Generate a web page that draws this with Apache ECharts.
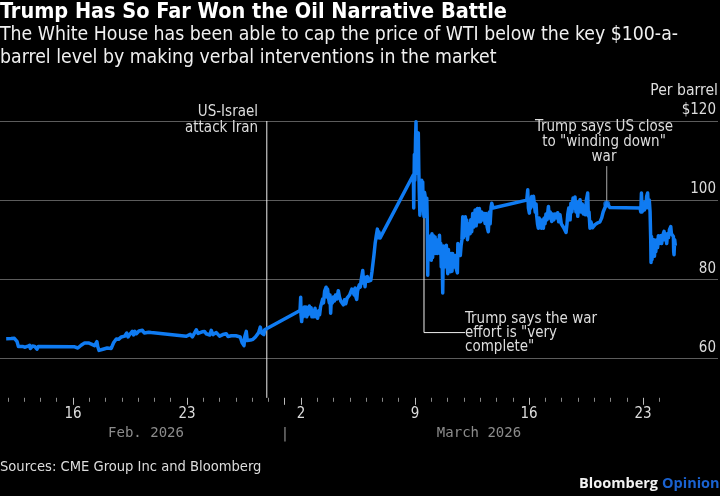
<!DOCTYPE html>
<html>
<head>
<meta charset="utf-8">
<style>html,body{margin:0;padding:0;background:#000}#chart{width:720px;height:496px}</style>
<script src="https://cdn.jsdelivr.net/npm/echarts@6/dist/echarts.min.js"></script>
</head>
<body>
<div id="chart"></div>
<script>
// x values are day numbers: Feb 16 = 15, Mar 1 = 28, Mar 2 = 29, Mar 23 = 50
var febPrices = [[10.9,64.97],[11.2,65],[11.4,65.05],[11.56,64.3],[11.65,63],[11.72,62.6],[11.9,63],[12.03,62.8],[12.2,63],[12.34,63.3],[12.38,62.5],[12.44,62.3],[12.52,63.1],[12.65,63],[12.72,62.5],[12.79,62.3],[12.87,63],[12.95,62.7],
    [14.9,62.9],[15.1,62.9],[15.3,62.6],[15.5,63.3],[15.72,63.9],[15.95,63.9],[16.13,63.6],[16.33,63.2],[16.47,64.2],[16.52,63],[16.6,62],[16.72,62.5],[16.84,62.3],[17.1,62.6],[17.35,62.5],[17.5,64],[17.66,64.9],[17.8,64.8],[17.97,65.4],[18.07,65],[18.17,65.6],[18.24,65.1],[18.3,66.4],[18.38,65.4],[18.48,66],[18.56,65.6],[18.64,66.8],[18.72,65.9],[18.8,66.8],[18.89,66.2],[19.05,66.9],[19.26,67.07],[19.38,66.4],[19.5,66.06],[19.65,66.6],[19.8,66.5],
    [21.96,65.56],[22.08,65.2],[22.2,66.06],[22.33,65.4],[22.45,66.3],[22.57,67.2],[22.68,66.3],[22.78,66.1],[22.93,66.7],[23.08,66.8],[23.18,66.2],[23.29,66.5],[23.4,65.9],[23.49,67.07],[23.6,66],[23.7,65.6],[23.8,66.5],[23.9,66.2],[24,65.6],[24.2,66],[24.3,65.5],[24.41,66.2],[24.52,65.5],[24.62,65.05],[24.72,65.7],[24.82,65.5],[25,65.7],[25.27,65.4],[25.38,64],[25.44,63.7],[25.5,63.2],[25.55,65.5],[25.64,66.8],[25.7,64.5],[25.75,64.7],[25.9,64.6],[26.05,64.8],[26.2,65.4],[26.3,65.4],[26.4,66.5],[26.5,67.9],[26.58,66.4],[26.67,66.6],[26.72,66],[26.77,67.2]];
var risePrices = [[28.94,72.07],[28.98,75.44],[29,71],[29.04,69.3],[29.09,72],[29.14,70.5],[29.2,73],[29.25,71],[29.3,73],[29.35,70.5],[29.39,72.8],[29.44,71],[29.51,73.25],[29.56,71.5],[29.62,72.8],[29.67,70.5],[29.72,71.5],[29.78,70.5],[29.86,72.66],[29.92,70.5],[29.97,71.5],[30.02,70.1],[30.08,72],[30.14,71],[30.2,73],[30.27,72.9],[30.33,75],[30.38,74],[30.45,77],[30.54,77.97],[30.58,75.5],[30.63,77.5],[30.7,75],[30.74,74],[30.78,76],[30.82,71.4],[30.86,75],[30.92,74],[30.99,75.5],[31.05,74.5],[31.12,76],[31.2,75],[31.29,77.1],[31.36,75.5],[31.44,74.5],[31.52,75],[31.6,73.5],[31.67,74.8],[31.75,73.8],[31.83,75.2],[31.91,74.9],[31.98,76],[32.05,76.5],[32.12,77.5],[32.21,78],[32.27,76],[32.32,77.8],[32.37,75.5],[32.42,74.9],[32.47,77],[32.52,76.5],[32.58,78.6],[32.64,78],[32.7,80],[32.79,82.2],[32.84,79],[32.88,80.5],[32.93,78.1],[32.98,80.5],[33.03,79.5],[33.07,80.7],[33.15,79.5],[33.28,79.7],[33.36,82],[33.48,86.2],[33.55,89],[33.62,91],[33.69,92.66],[33.73,90.5],[33.78,92],[33.85,90.4]];
var peakPrices = [[35.9,106.4],[35.92,98],[35.94,105],[35.96,111.5],[35.99,105],[36.03,115],[36.06,119.8],[36.09,108],[36.12,116],[36.14,106.8],[36.17,116],[36.2,117],[36.23,108],[36.26,102],[36.3,96.2],[36.33,105],[36.37,100],[36.41,105],[36.44,99],[36.47,104.6],[36.5,98],[36.55,95.8],[36.58,102],[36.61,101.3],[36.65,99],[36.72,100.5],[36.75,95]];
var dipPrices = [[36.78,81],[36.8,90.7],[36.84,86],[36.88,90],[36.92,85],[36.96,91],[37,84.8],[37.04,91.5],[37.08,85.5],[37.13,91],[37.18,86.5],[37.23,90.7],[37.28,86.5],[37.33,89.5],[37.37,86.5],[37.41,90],[37.46,87],[37.5,91.1],[37.54,86.5],[37.58,89],[37.61,83.1],[37.64,88],[37.67,84],[37.7,76.5],[37.74,88.4],[37.78,83],[37.83,88.2],[37.88,83.5],[37.92,88.6],[37.97,84],[38.01,81.4],[38.05,87.5],[38.09,82.5],[38.13,85.5],[38.18,81.9],[38.23,86.5],[38.27,82],[38.31,86.5],[38.36,83.5],[38.4,86],[38.46,83.1],[38.5,86],[38.54,82.5],[38.6,81.6],[38.63,89],[38.66,86],[38.72,88.5],[38.78,86],[38.83,88.6],[38.88,90],[38.93,95.8],[38.97,90.5],[39.01,95.5],[39.05,91.1],[39.09,95.8],[39.13,91],[39.17,95],[39.22,90],[39.28,89.7],[39.33,94],[39.38,91.5],[39.42,95],[39.48,92],[39.54,96.6],[39.6,93.2],[39.69,97.5],[39.75,93.5],[39.83,97.9],[39.89,94.5],[39.95,97.9],[40.02,94.5],[40.09,97],[40.15,95],[40.24,96.6],[40.3,94.1],[40.36,96.6],[40.43,93.2],[40.5,92],[40.56,97],[40.61,94],[40.67,98.3],[40.71,99.2],[40.78,98],[40.85,98.1]];
var midPrices = [[42.86,100],[42.92,102.6],[42.96,98],[43.02,96.7],[43.06,100],[43.1,98],[43.16,100.9],[43.22,98.5],[43.27,101],[43.33,100.5],[43.38,97],[43.43,99],[43.47,96],[43.52,94],[43.57,92.9],[43.62,95.5],[43.67,93],[43.72,95],[43.78,92.9],[43.83,95],[43.88,92.9],[43.93,95.5],[43.98,94],[44.04,96.5],[44.1,95],[44.19,98.4],[44.24,95.5],[44.3,97],[44.39,94.6],[44.45,96.5],[44.52,95],[44.6,96.5],[44.7,95.5],[44.76,96.8],[44.82,94.5],[44.9,96.3],[44.98,94],[45.07,94.5],[45.13,93],[45.2,93.5],[45.27,91.8],[45.33,94],[45.38,96.5],[45.44,98],[45.52,95],[45.57,99.2],[45.63,97],[45.7,100.5],[45.76,98],[45.82,100.8],[45.88,97],[45.93,99.5],[45.99,95.9],[46.05,99],[46.13,100.1],[46.2,97],[46.27,99],[46.33,96.5],[46.4,98.5],[46.46,96.3],[46.52,100],[46.6,101.8],[46.64,96],[46.68,97],[46.74,92.9],[46.8,94.5],[46.9,93],[47.05,93.8],[47.2,94.2],[47.35,94.5],[47.46,95.5],[47.55,97],[47.65,98],[47.77,99.2],[47.97,98.1]];
var endPrices = [[49.81,98],[49.86,97],[49.9,101.8],[49.94,97],[49.98,96.7],[50.03,99],[50.08,97.5],[50.12,99.5],[50.17,98],[50.22,101],[50.28,101.8],[50.33,98],[50.38,100],[50.43,97],[50.47,90],[50.49,84.2],[50.52,90.8],[50.55,85],[50.58,90],[50.62,87],[50.66,90],[50.7,85.8],[50.74,89],[50.78,87],[50.84,90],[50.89,88],[50.94,91],[51,89],[51.07,91],[51.14,89],[51.2,91],[51.29,92.1],[51.33,90],[51.38,91.5],[51.45,89],[51.5,91.5],[51.56,90.5],[51.62,92.5],[51.7,93.3],[51.74,91.5],[51.8,91.8],[51.86,90.8],[51.88,87],[51.9,86.2],[51.94,90],[51.98,88.5]];

var attackLine = [[26.9, 50], [26.9, 120]];
var completeLeader = [[36.55, 100], [36.55, 66.5], [39.07, 66.5]];
var windingLeader = [[47.77, 99], [47.77, 108.6]];
var windingPoint = [[47.77, 99]];

var majorTicks = [15, 22, 28, 29, 36, 43, 50];
var minorTicks = [11,12,13,14,16,17,18,19,20,21,23,24,25,26,27,30,31,32,33,34,35,37,38,39,40,41,42,44,45,46,47,48,49,51];
var labelDays = [15, 22, 29, 36, 43, 50];
var labelTexts = ['16', '23', '2', '9', '16', '23'];
var yTicks = {60: '60', 80: '80', 100: '100', 120: '$120'};

var bodyFont = '"DejaVu Sans Condensed", "DejaVu Sans", sans-serif';
var monoFont = '"DejaVu Sans Mono", monospace';
var logoFont = '"Open Sans", sans-serif';
var myChart = echarts.init(document.getElementById('chart'));

function txt(x, y, text, size, color, align, weight, family) {
    return {
        type: 'text', z: 10,
        style: {
            text: text, x: x, y: y, fill: color, align: align || 'left', verticalAlign: 'middle',
            font: (weight ? weight + ' ' : '') + size + 'px ' + (family || bodyFont)
        }
    };
}

var allPrices = febPrices.concat(risePrices, peakPrices, dipPrices, midPrices, endPrices);
var xMin = 10.52;
var xMax = 54.6;

myChart.setOption({
    backgroundColor: '#000',
    animation: false,
    grid: { left: 0, right: 2, top: 121, bottom: 58.6 },
    xAxis: [{
        type: 'value', min: xMin, max: xMax, offset: -39.6,
        axisLine: { show: false },
        splitLine: { show: false },
        axisTick: { show: true, length: 7, customValues: majorTicks, lineStyle: { color: '#bbb', width: 1 } },
        axisLabel: {
            show: true, customValues: labelDays, color: '#ddd', fontSize: 15, margin: 9, fontFamily: bodyFont,
            formatter: function(v) { return labelTexts[labelDays.indexOf(v)]; }
        }
    }, {
        type: 'value', min: xMin, max: xMax, position: 'bottom', offset: -39.6,
        axisLine: { show: false },
        splitLine: { show: false },
        axisLabel: { show: false },
        axisTick: { show: true, length: 4, customValues: minorTicks, lineStyle: { color: '#888', width: 1 } }
    }],
    yAxis: {
        type: 'value', min: 40, max: 120, interval: 20, position: 'right',
        axisLine: { show: false },
        axisTick: { show: false },
        splitLine: { show: true, showMinLine: false, lineStyle: { color: '#5c5c5c', width: 1 } },
        axisLabel: {
            inside: true, margin: 2, color: '#ddd', fontSize: 15, fontFamily: bodyFont,
            verticalAlign: 'bottom', showMinLabel: false, padding: [0, 0, 3, 0],
            formatter: function(v) { return yTicks[v] || ''; }
        }
    },
    series: [{
        type: 'line', data: attackLine, symbol: 'none', silent: true, z: 1,
        lineStyle: { color: '#f0f0f0', width: 1 }
    }, {
        type: 'line', data: completeLeader, symbol: 'none', silent: true, z: 1,
        lineStyle: { color: '#f0f0f0', width: 1 }
    }, {
        type: 'line', data: windingLeader, symbol: 'none', silent: true, z: 1,
        lineStyle: { color: '#aaa', width: 1 }
    }, {
        type: 'line', data: allPrices, symbol: 'none', z: 3,
        lineStyle: { color: '#0f7bf2', width: 3.5, join: 'round' }
    }, {
        type: 'scatter', data: windingPoint, symbol: 'circle', symbolSize: 7, z: 4,
        itemStyle: { color: '#0f7bf2' }
    }],
    graphic: [
        txt(0, 12.5, 'Trump Has So Far Won the Oil Narrative Battle', 21.5, '#fff', 'left', 'bold'),
        txt(0, 35, 'The White House has been able to cap the price of WTI below the key $100-a-', 19.3, '#f0f0f0'),
        txt(0, 58, 'barrel level by making verbal interventions in the market', 19.3, '#f0f0f0'),
        txt(718, 91, 'Per barrel', 15.6, '#ddd', 'right'),
        txt(258, 112, 'US-Israel', 15, '#ddd', 'right'),
        txt(258, 128, 'attack Iran', 15, '#ddd', 'right'),
        txt(604, 127, 'Trump says US close', 15, '#ddd', 'center'),
        txt(604, 142, 'to "winding down"', 15, '#ddd', 'center'),
        txt(604, 157, 'war', 15, '#ddd', 'center'),
        txt(465, 319, 'Trump says the war', 15, '#ddd'),
        txt(465, 333, 'effort is "very', 15, '#ddd'),
        txt(465, 347, 'complete"', 15, '#ddd'),
        txt(146, 433, 'Feb. 2026', 14, '#8c8c8c', 'center', '', monoFont),
        txt(479, 433, 'March 2026', 14, '#8c8c8c', 'center', '', monoFont),
        txt(285, 434, '|', 14, '#8c8c8c', 'center', '', monoFont),
        txt(0, 467, 'Sources: CME Group Inc and Bloomberg', 14.6, '#ddd'),
        txt(662, 484, 'Opinion', 14.5, '#1a62d0', 'left', 'bold', logoFont),
        txt(658, 484, 'Bloomberg', 14.5, '#f2f2f2', 'right', 'bold', logoFont)
    ]
});
</script>
</body>
</html>
